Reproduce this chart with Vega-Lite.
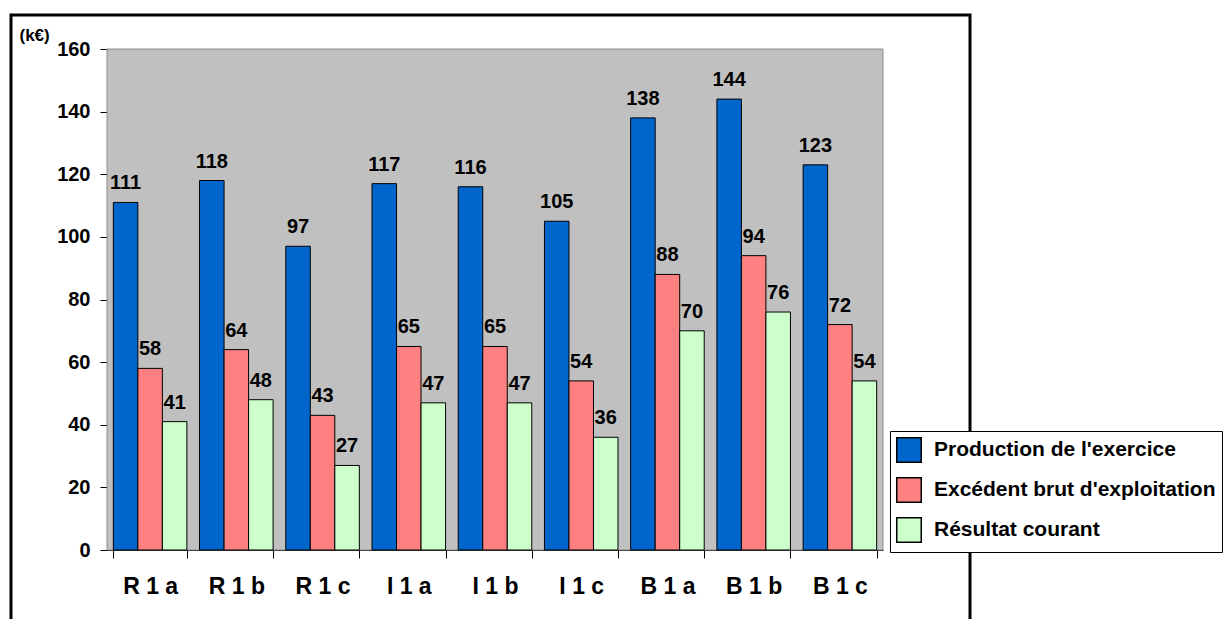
{
  "$schema": "https://vega.github.io/schema/vega-lite/v6.json",
  "width": 959,
  "height": 650,
  "autosize": {"type": "none"},
  "padding": {"left": 11, "top": 15, "right": 261, "bottom": 0},
  "config": {
    "font": "Liberation Sans",
    "view": {"stroke": "black", "strokeWidth": 3}
  },
  "datasets": {
    "resultats": [
      {"site": "R 1 a", "serie": "Production de l'exercice", "value": 111},
      {"site": "R 1 a", "serie": "Excédent brut d'exploitation", "value": 58},
      {"site": "R 1 a", "serie": "Résultat courant", "value": 41},
      {"site": "R 1 b", "serie": "Production de l'exercice", "value": 118},
      {"site": "R 1 b", "serie": "Excédent brut d'exploitation", "value": 64},
      {"site": "R 1 b", "serie": "Résultat courant", "value": 48},
      {"site": "R 1 c", "serie": "Production de l'exercice", "value": 97},
      {"site": "R 1 c", "serie": "Excédent brut d'exploitation", "value": 43},
      {"site": "R 1 c", "serie": "Résultat courant", "value": 27},
      {"site": "I 1 a", "serie": "Production de l'exercice", "value": 117},
      {"site": "I 1 a", "serie": "Excédent brut d'exploitation", "value": 65},
      {"site": "I 1 a", "serie": "Résultat courant", "value": 47},
      {"site": "I 1 b", "serie": "Production de l'exercice", "value": 116},
      {"site": "I 1 b", "serie": "Excédent brut d'exploitation", "value": 65},
      {"site": "I 1 b", "serie": "Résultat courant", "value": 47},
      {"site": "I 1 c", "serie": "Production de l'exercice", "value": 105},
      {"site": "I 1 c", "serie": "Excédent brut d'exploitation", "value": 54},
      {"site": "I 1 c", "serie": "Résultat courant", "value": 36},
      {"site": "B 1 a", "serie": "Production de l'exercice", "value": 138},
      {"site": "B 1 a", "serie": "Excédent brut d'exploitation", "value": 88},
      {"site": "B 1 a", "serie": "Résultat courant", "value": 70},
      {"site": "B 1 b", "serie": "Production de l'exercice", "value": 144},
      {"site": "B 1 b", "serie": "Excédent brut d'exploitation", "value": 94},
      {"site": "B 1 b", "serie": "Résultat courant", "value": 76},
      {"site": "B 1 c", "serie": "Production de l'exercice", "value": 123},
      {"site": "B 1 c", "serie": "Excédent brut d'exploitation", "value": 72},
      {"site": "B 1 c", "serie": "Résultat courant", "value": 54}
    ]
  },
  "resolve": {"scale": {"x": "independent"}},
  "layer": [
    {
      "description": "grey plotting area behind the bars",
      "data": {"values": [{"left": 0, "right": 1, "bottom": 0, "top": 160}]},
      "mark": {"type": "rect", "fill": "#C0C0C0", "stroke": "#8C8C8C", "strokeWidth": 1},
      "encoding": {
        "x": {"field": "left", "type": "quantitative", "scale": {"domain": [0, 1], "range": [96, 872]}, "axis": null},
        "x2": {"field": "right"},
        "y": {"field": "bottom", "type": "quantitative", "title": "(k€)", "scale": {"domain": [0, 160], "range": [535, 34]}},
        "y2": {"field": "top"}
      }
    },
    {
      "data": {"name": "resultats"},
      "encoding": {
        "x": {
          "field": "site",
          "type": "nominal",
          "sort": null,
          "title": null,
          "scale": {"range": [96, 872], "paddingInner": 0.147, "paddingOuter": 0.0735},
          "axis": {
            "orient": "bottom",
            "offset": -115,
            "domainColor": "black",
            "domainWidth": 1,
            "tickColor": "black",
            "tickSize": 8,
            "tickBand": "extent",
            "labelAngle": 0,
            "labelFontSize": 23,
            "labelFontWeight": "bold",
            "labelColor": "black",
            "labelPadding": 17
          }
        },
        "xOffset": {"field": "serie", "sort": null, "scale": {"paddingInner": 0, "paddingOuter": 0}},
        "y": {
          "field": "value",
          "type": "quantitative",
          "title": "(k€)",
          "scale": {"domain": [0, 160], "range": [535, 34]},
          "axis": {
            "orient": "left",
            "offset": -96,
            "values": [0, 20, 40, 60, 80, 100, 120, 140, 160],
            "grid": false,
            "domainColor": "black",
            "domainWidth": 1,
            "tickColor": "black",
            "tickSize": 7,
            "labelFontSize": 20,
            "labelFontWeight": "bold",
            "labelColor": "black",
            "labelPadding": 10,
            "titleAngle": 0,
            "titleFontSize": 17,
            "titleFontWeight": "bold",
            "titleColor": "black",
            "titleAlign": "left",
            "titleBaseline": "alphabetic",
            "titleX": -88,
            "titleY": 25
          }
        }
      },
      "layer": [
        {
          "mark": {"type": "bar", "stroke": "black", "strokeWidth": 1},
          "encoding": {
            "color": {
              "field": "serie",
              "type": "nominal",
              "sort": null,
              "title": null,
              "scale": {
                "domain": ["Production de l'exercice", "Excédent brut d'exploitation", "Résultat courant"],
                "range": ["#0066CC", "#FF8080", "#CCFFCC"]
              },
              "legend": {
                "orient": "none",
                "legendX": 879,
                "legendY": 416,
                "direction": "vertical",
                "fillColor": "white",
                "strokeColor": "black",
                "padding": 6,
                "symbolType": "square",
                "symbolSize": 600,
                "symbolStrokeColor": "black",
                "symbolStrokeWidth": 1.5,
                "symbolOpacity": 1,
                "rowPadding": 8,
                "labelOffset": 12,
                "labelFontSize": 21,
                "labelFontWeight": "bold",
                "labelColor": "black",
                "labelLimit": 400
              }
            }
          }
        },
        {
          "mark": {"type": "text", "baseline": "alphabetic", "dy": -13, "fontSize": 20, "fontWeight": "bold", "color": "black"},
          "encoding": {
            "text": {"field": "value", "type": "quantitative"}
          }
        }
      ]
    }
  ]
}
